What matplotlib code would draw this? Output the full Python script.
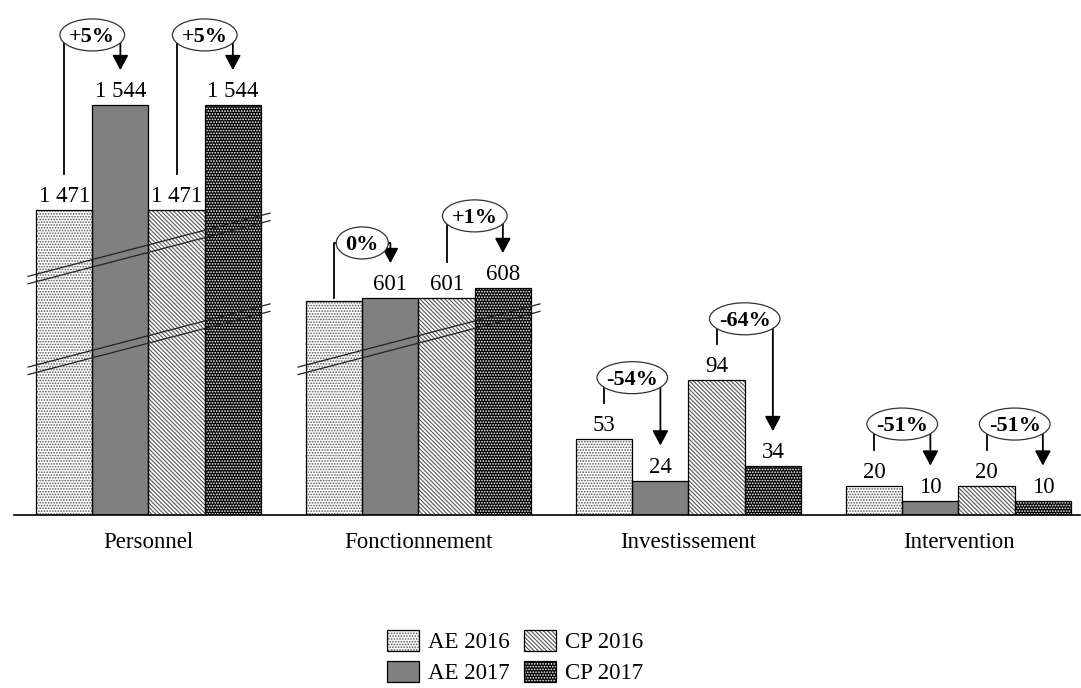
import numpy as np
import matplotlib.pyplot as plt
from matplotlib.patches import Patch
from matplotlib.path import Path
from matplotlib.transforms import Affine2D, blended_transform_factory

plt.rcParams['font.family'] = ['Liberation Serif', 'DejaVu Serif']
plt.rcParams['hatch.linewidth'] = 0.8

categories = ['Personnel', 'Fonctionnement', 'Investissement', 'Intervention']
series = ['AE 2016', 'AE 2017', 'CP 2016', 'CP 2017']
ae_2016 = [1471, 599, 53, 20]
ae_2017 = [1544, 601, 24, 10]
cp_2016 = [1471, 601, 94, 20]
cp_2017 = [1544, 608, 34, 10]
ae_change = ['+5%', '0%', '-54%', '-51%']
cp_change = ['+5%', '+1%', '-64%', '-51%']
values = [ae_2016, ae_2017, cp_2016, cp_2017]

# bars whose value is not printed above them (series index, category index)
hidden_labels = [(0, 1)]

# broken value axis: the two ranges below are squeezed to a thin band
v_knots = [0, 110, 590, 635, 1450, 1700]
t_knots = [0, 110, 140, 185, 191.4, 441.4]
gaps = [(110, 590), (635, 1450)]


def fwd(v):
    return np.interp(v, v_knots, t_knots)


def inv(t):
    return np.interp(t, t_knots, v_knots)


def oval(x0, y0, width, height, mutation_size):
    # ellipse around the text box, wider than tall, centred on the glyphs
    a = width / 2 + 0.42 * mutation_size
    b = height / 2 + 0.27 * mutation_size
    cy = y0 + height / 2 + 0.1 * mutation_size
    tr = Affine2D().scale(a, b).translate(x0 + width / 2, cy)
    return tr.transform_path(Path.unit_circle())


styles = [
    dict(face='white', hatch='......', hcol='#555555'),
    dict(face='#808080', hatch=None, hcol='#808080'),
    dict(face='white', hatch='\\\\\\\\\\\\\\\\', hcol='#555555'),
    dict(face='black', hatch='......', hcol='white'),
]

W, H = 1081, 688
px_per_t = 1.436
fig = plt.figure(figsize=(W / 100, H / 100), dpi=100)
ax = fig.add_axes([13.5 / W, 173 / H, (1080 - 13.5) / W, 515 / H])
ax.set_yscale('function', functions=(fwd, inv))
t_top = 515 / px_per_t
ax.set_ylim(0, inv(t_top))
ax.set_xlim(-0.5, 3.45)

x = np.arange(len(categories))
w = 0.2083
offsets = [(i - 1.5) * w for i in range(4)]

handles = []
for i, (vals, st) in enumerate(zip(values, styles)):
    ax.bar(x + offsets[i], vals, w, color=st['face'], edgecolor=st['hcol'],
           hatch=st['hatch'], linewidth=0, zorder=2)
    ax.bar(x + offsets[i], vals, w, fill=False, edgecolor='black',
           linewidth=0.9, zorder=3)
    handles.append((Patch(facecolor=st['face'], edgecolor=st['hcol'],
                          hatch=st['hatch'], linewidth=0),
                    Patch(fill=False, edgecolor='black', linewidth=0.9)))
    for c, v in enumerate(vals):
        if (i, c) in hidden_labels:
            continue
        ax.annotate(f'{v:,}'.replace(',', ' '), (x[c] + offsets[i], v),
                    xytext=(0, 8), textcoords='offset pixels',
                    ha='center', va='baseline', fontsize=16.5)

# break marks across the groups that run through a squeezed band
trans = blended_transform_factory(ax.transData, ax.transAxes)
for lo, hi in gaps:
    tmid = (fwd(lo) + fwd(hi)) / 2
    for c in range(len(categories)):
        if min(vals[c] for vals in values) <= hi:
            continue
        xs = [x[c] - 0.446, x[c] + 0.45]
        for shift in (0, -5.2):
            ys = [(tmid - 22 + shift) / t_top, (tmid + 22 + shift) / t_top]
            ax.plot(xs, ys, color='#222222', lw=0.9, transform=trans,
                    zorder=4, clip_on=False)

# change brackets between the two years
rise = [[70, 70], [55, 72], [61, 61], [62, 62]]
to_data = ax.transData.inverted()


def ydata(xd, ypix):
    return to_data.transform((ax.transData.transform((xd, 0))[0], ypix))[1]


for c in range(len(categories)):
    for k, (i, j, label) in enumerate([(0, 1, ae_change[c]), (2, 3, cp_change[c])]):
        x1, x2 = x[c] + offsets[i], x[c] + offsets[j]
        y1 = ax.transData.transform((x1, values[i][c]))[1]
        y2 = ax.transData.transform((x2, values[j][c]))[1]
        start = y1 + (3 if (i, c) in hidden_labels else 36)
        tip = y2 + 35
        level = max(y1, y2) + rise[c][k]
        ax.plot([x1, x1, x2], [ydata(x1, start), ydata(x1, level), ydata(x2, level)],
                color='black', lw=1.3, zorder=4, clip_on=False)
        ax.annotate('', xy=(x2, ydata(x2, tip)), xytext=(x2, ydata(x2, level)),
                    arrowprops=dict(arrowstyle='-|>,head_length=0.6,head_width=0.32',
                                    color='black', lw=1.3, mutation_scale=15,
                                    shrinkA=0, shrinkB=0),
                    zorder=4, annotation_clip=False)
        ax.text((x1 + x2) / 2, ydata(x1, level - 2), label, ha='center', va='center',
                fontsize=16, fontweight='bold', zorder=6,
                bbox=dict(boxstyle=oval, fc='white', ec='#333333', lw=0.9))

ax.set_xticks(x, categories, fontsize=16.5)
ax.tick_params(axis='x', length=0, pad=12)
ax.yaxis.set_visible(False)
for side in ['left', 'right', 'top']:
    ax.spines[side].set_visible(False)
ax.spines['bottom'].set_linewidth(1.2)
ax.spines['bottom'].set_zorder(5)

fig.legend(handles, series, loc='upper left', bbox_to_anchor=(387 / W, 1 - 630 / H),
           ncol=2, frameon=False, fontsize=16.5, handlelength=1.4, handleheight=1.0,
           handletextpad=0.4, columnspacing=0.6, labelspacing=0.35,
           borderpad=0, borderaxespad=0)

fig.savefig('out.png', dpi=100)
